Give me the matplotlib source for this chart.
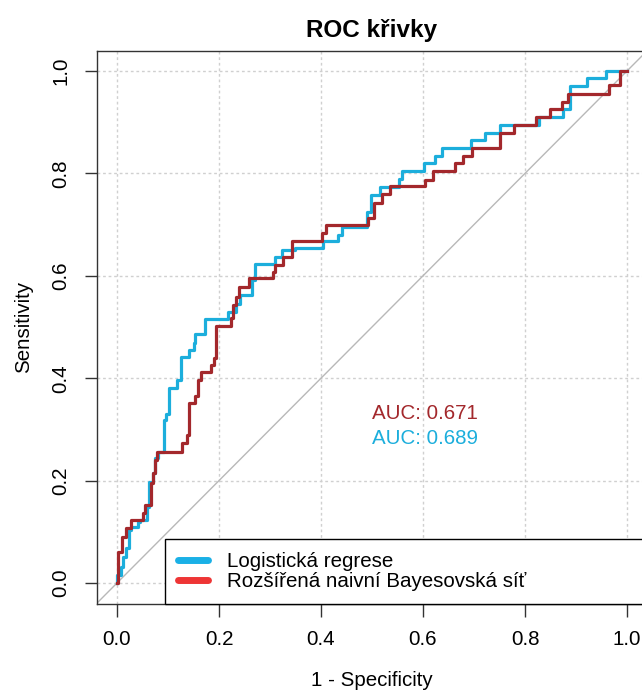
import matplotlib.pyplot as plt
from matplotlib.lines import Line2D

plt.rcParams['font.family'] = ['Liberation Sans', 'DejaVu Sans']

# ROC body: 1 - specificity (fpr) and sensitivity (tpr) at each step corner
fpr_lr = [0.0, 0.0, 0.007, 0.012, 0.018, 0.024, 0.027, 0.042, 0.045, 0.058,
          0.063, 0.070, 0.075, 0.081, 0.093, 0.097, 0.101, 0.117, 0.125, 0.142,
          0.150, 0.153, 0.173, 0.218, 0.233, 0.241, 0.264, 0.271, 0.310, 0.323,
          0.349, 0.403, 0.434, 0.441, 0.490, 0.499, 0.516, 0.552, 0.558, 0.601,
          0.624, 0.637, 0.694, 0.722, 0.751, 0.827, 0.874, 0.888, 0.922, 0.958,
          1.0]
tpr_lr = [0.0, 0.016, 0.032, 0.051, 0.068, 0.104, 0.110, 0.120, 0.123, 0.149,
          0.198, 0.215, 0.244, 0.256, 0.318, 0.331, 0.380, 0.396, 0.441, 0.455,
          0.468, 0.486, 0.515, 0.530, 0.545, 0.563, 0.592, 0.624, 0.636, 0.650,
          0.654, 0.667, 0.680, 0.696, 0.725, 0.758, 0.774, 0.790, 0.805, 0.820,
          0.834, 0.849, 0.865, 0.879, 0.895, 0.910, 0.925, 0.971, 0.986, 1.0,
          1.0]

fpr_bn = [0.0, 0.001, 0.009, 0.018, 0.027, 0.050, 0.054, 0.066, 0.070, 0.075,
          0.079, 0.127, 0.138, 0.142, 0.152, 0.158, 0.165, 0.184, 0.190, 0.194,
          0.224, 0.228, 0.233, 0.240, 0.259, 0.306, 0.310, 0.325, 0.343, 0.401,
          0.410, 0.493, 0.503, 0.519, 0.535, 0.604, 0.620, 0.663, 0.679, 0.697,
          0.751, 0.778, 0.822, 0.849, 0.872, 0.885, 0.965, 0.986, 1.0]
tpr_bn = [0.0, 0.061, 0.090, 0.107, 0.123, 0.137, 0.152, 0.195, 0.215, 0.240,
          0.256, 0.273, 0.289, 0.351, 0.365, 0.396, 0.413, 0.426, 0.439, 0.501,
          0.517, 0.543, 0.559, 0.579, 0.595, 0.608, 0.621, 0.636, 0.667, 0.683,
          0.699, 0.712, 0.743, 0.760, 0.775, 0.788, 0.805, 0.820, 0.833, 0.849,
          0.878, 0.895, 0.910, 0.925, 0.940, 0.956, 0.973, 1.0, 1.0]

auc_lr = 0.689
auc_bn = 0.671
names = ["Logistická regrese", "Rozšířená naivní Bayesovská síť"]
ticks = [0.0, 0.2, 0.4, 0.6, 0.8, 1.0]

blue = '#1CAEDC'
brown = '#A3282C'
fs = 14.8

fig = plt.figure(figsize=(6.42, 6.90), dpi=100)
ax = fig.add_axes([96.6 / 642, 86.5 / 690, 550.8 / 642, 553 / 690])
ax.set_xlim(-0.04, 1.04)
ax.set_ylim(-0.04, 1.04)

for t in ticks:
    ax.axvline(t, color='#D0D0D0', lw=1, ls=(0, (2, 2)), zorder=1)
    ax.axhline(t, color='#D0D0D0', lw=1, ls=(0, (2, 2)), zorder=1)

ax.axline((0, 0), (1, 1), color='#B8B8B8', lw=1, zorder=2)

ax.plot(fpr_lr, tpr_lr, drawstyle='steps-post', color=blue, lw=2.3, zorder=3)
ax.plot(fpr_bn, tpr_bn, drawstyle='steps-post', color=brown, lw=2.3, zorder=4)

ax.text(0.5, 0.332, f"AUC: {auc_bn:.3f}", color=brown, fontsize=fs,
        ha='left', va='center')
ax.text(0.5, 0.283, f"AUC: {auc_lr:.3f}", color=blue, fontsize=fs,
        ha='left', va='center')

handles = [Line2D([], [], color='#1AB0E6', lw=5, solid_capstyle='round'),
           Line2D([], [], color='#EE3535', lw=5, solid_capstyle='round')]
leg = ax.legend(handles, names, loc='lower left', mode='expand',
                bbox_to_anchor=(0.124, 0.0, 0.876, 0.116), borderaxespad=0,
                fontsize=fs, frameon=True, fancybox=False, framealpha=1,
                edgecolor='black', handlelength=1.5, handletextpad=0.92,
                labelspacing=0.05, borderpad=0.62)
leg.get_frame().set_linewidth(1.0)

ax.set_xticks(ticks)
ax.set_yticks(ticks)
ax.set_xticklabels([f"{t:.1f}" for t in ticks], fontsize=fs)
ax.set_yticklabels([f"{t:.1f}" for t in ticks], fontsize=fs,
                   rotation=90, va='center')
ax.tick_params(axis='x', length=9, width=1, pad=10, color='#333333')
ax.tick_params(axis='y', length=9, width=1, pad=10, color='#333333')
for s in ax.spines.values():
    s.set_color('#333333')
    s.set_linewidth(1)

ax.set_xlabel("1 - Specificity", fontsize=fs, labelpad=16)
ax.set_ylabel("Sensitivity", fontsize=fs, labelpad=13)
ax.set_title("ROC křivky", fontsize=17.5, fontweight='bold', pad=10)

fig.savefig("out.png", dpi=100)
